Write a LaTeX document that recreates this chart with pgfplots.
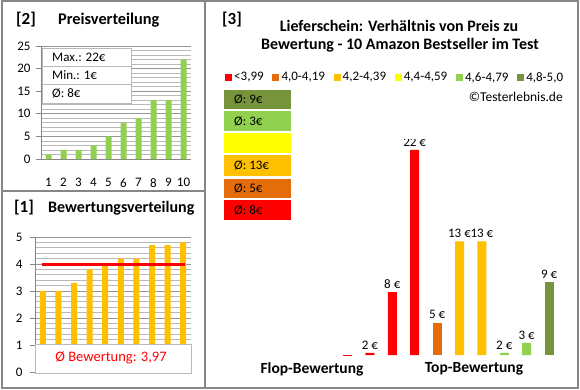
\documentclass[border=0pt]{standalone}
\usepackage{pgfplots}
\pgfplotsset{compat=1.18}
\usepackage{fontspec}
\setmainfont{Carlito}
\definecolor{frame}{RGB}{134,134,134}
\definecolor{gridmaj}{RGB}{150,150,150}
\definecolor{gridmin}{RGB}{185,185,185}
\definecolor{cred}{RGB}{255,0,0}
\definecolor{corange}{RGB}{228,108,10}
\definecolor{cgold}{RGB}{255,192,0}
\definecolor{cyellow}{RGB}{255,255,0}
\definecolor{clgreen}{RGB}{146,208,80}
\definecolor{cdgreen}{RGB}{119,147,60}
\newcommand{\fs}[1]{\fontsize{#1}{#1}\selectfont}
\begin{document}
\begin{tikzpicture}
\path[use as bounding box] (0pt,0pt) rectangle (580pt,-390pt);
\fill[white] (0pt,0pt) rectangle (580pt,-390pt);
% ---------- Panel 2 ----------
\node[anchor=west, inner sep=0pt, font=\bfseries\fs{17}] at (16pt,-20pt) {[2]};
\node[anchor=west, inner sep=0pt, font=\bfseries\fs{16.3}] at (58pt,-20pt) {Preisverteilung};
\begin{axis}[at={(41pt,-159pt)}, anchor=south west, scale only axis,
  width=150pt, height=113pt,
  xmin=0.5, xmax=10.5, ymin=0, ymax=25,
  xtick={1,...,10}, ytick={0,5,...,25}, minor ytick={0,1,...,25},
  ymajorgrids, yminorgrids,
  major grid style={gridmaj, line width=0.8pt},
  minor grid style={gridmin, line width=0.8pt},
  axis x line*=bottom, axis y line*=left,
  axis line style={frame, line width=0.8pt, -},
  tick align=outside, major tick length=5pt, minor tick length=0pt,
  xtick style={draw=none}, ytick style={frame, line width=0.8pt},
  /pgf/number format/assume math mode=true,
  ticklabel style={font=\fs{13}},
  xticklabel style={yshift=-11pt},
  yticklabel style={xshift=-2pt},
  clip=false]
\addplot[ybar, bar width=6pt, bar shift=0pt, fill=clgreen, draw=none]
  coordinates {(1,1)(2,2)(3,2)(4,3)(5,5)(6,8)(7,9)(8,13)(9,13)(10,22)};
\end{axis}
\draw[gridmin, fill=white, line width=0.8pt] (42pt,-48pt) rectangle (131pt,-103pt);
\draw[gridmin, line width=0.8pt] (42pt,-66pt) -- (131pt,-66pt);
\draw[gridmin, line width=0.8pt] (42pt,-84pt) -- (131pt,-84pt);
\node[anchor=west, inner sep=0pt, font=\fs{13}] at (52pt,-57pt) {Max.: 22€};
\node[anchor=west, inner sep=0pt, font=\fs{13}] at (52pt,-75pt) {Min.: 1€};
\node[anchor=west, inner sep=0pt, font=\fs{13}] at (52pt,-93pt) {Ø: 8€};
% ---------- Panel 1 ----------
\node[anchor=west, inner sep=0pt, font=\bfseries\fs{17}] at (14pt,-208pt) {[1]};
\node[anchor=west, inner sep=0pt, font=\bfseries\fs{16}] at (48pt,-208pt) {Bewertungsverteilung};
\begin{axis}[at={(35pt,-372pt)}, anchor=south west, scale only axis,
  width=156pt, height=135pt,
  xmin=0.5, xmax=10.5, ymin=0, ymax=5,
  xtick=\empty, ytick={0,1,...,5}, minor y tick num=4,
  ymajorgrids, yminorgrids,
  major grid style={gridmaj, line width=0.8pt},
  minor grid style={gridmin, line width=0.8pt},
  axis x line*=bottom, axis y line*=left,
  axis line style={frame, line width=0.8pt, -},
  tick align=outside, major tick length=5pt, minor tick length=0pt,
  ytick style={frame, line width=0.8pt},
  /pgf/number format/assume math mode=true,
  ticklabel style={font=\fs{13}},
  yticklabel style={xshift=-4pt},
  clip=false]
\addplot[ybar, bar width=6pt, bar shift=0pt, fill=cgold, draw=none]
  coordinates {(1,3.0)(2,3.0)(3,3.3)(4,3.8)(5,4.0)(6,4.2)(7,4.2)(8,4.7)(9,4.7)(10,4.8)};
\addplot[cred, line width=3pt, mark=none] coordinates {(0.95,3.97)(10.1,3.97)};
\end{axis}
\draw[gridmin, fill=white, line width=0.8pt] (35pt,-344pt) rectangle (191pt,-373pt);
\node[inner sep=0pt, text=cred, font=\fs{14.5}] at (111pt,-358pt) {Ø Bewertung: 3,97};
% ---------- Panel 3 ----------
\node[anchor=west, inner sep=0pt, font=\bfseries\fs{17}] at (222pt,-20pt) {[3]};
\node[inner sep=0pt, font=\bfseries\fs{16}] at (399pt,-26pt) {Lieferschein: Verhältnis von Preis zu};
\node[inner sep=0pt, font=\bfseries\fs{16}] at (400pt,-45pt) {Bewertung - 10 Amazon Bestseller im Test};
% legend row
\fill[cred]    (225pt,-74pt) rectangle (232pt,-81pt);
\node[anchor=west, inner sep=0pt, font=\fs{13}] at (234pt,-77.5pt) {<3,99};
\fill[corange] (272.3pt,-74pt) rectangle (279.3pt,-81pt);
\node[anchor=west, inner sep=0pt, font=\fs{13}] at (281.3pt,-77.5pt) {4,0-4,19};
\fill[cgold]   (333.5pt,-74pt) rectangle (340.5pt,-81pt);
\node[anchor=west, inner sep=0pt, font=\fs{13}] at (342.5pt,-77.5pt) {4,2-4,39};
\fill[cyellow] (394.7pt,-74pt) rectangle (401.7pt,-81pt);
\node[anchor=west, inner sep=0pt, font=\fs{13}] at (403.7pt,-77.5pt) {4,4-4,59};
\fill[clgreen] (455.9pt,-74pt) rectangle (462.9pt,-81pt);
\node[anchor=west, inner sep=0pt, font=\fs{13}] at (464.9pt,-77.5pt) {4,6-4,79};
\fill[cdgreen] (517.1pt,-74pt) rectangle (524.1pt,-81pt);
\node[anchor=west, inner sep=0pt, font=\fs{13}] at (526.1pt,-77.5pt) {4,8-5,0};
\node[anchor=east, inner sep=0pt, font=\fs{13.5}] at (563pt,-97pt) {©Testerlebnis.de};
% average boxes
\fill[cdgreen] (224pt,-90pt)  rectangle (291pt,-109pt);
\fill[clgreen] (224pt,-111pt) rectangle (291pt,-131pt);
\fill[cyellow] (224pt,-133pt) rectangle (291pt,-153pt);
\fill[cgold]   (224pt,-155pt) rectangle (291pt,-176pt);
\fill[corange] (224pt,-179pt) rectangle (291pt,-198pt);
\fill[cred]    (224pt,-200pt) rectangle (291pt,-220pt);
\node[anchor=west, inner sep=0pt, font=\fs{13}] at (234pt,-99.5pt) {Ø: 9€};
\node[anchor=west, inner sep=0pt, font=\fs{13}] at (234pt,-121pt) {Ø: 3€};
\node[anchor=west, inner sep=0pt, font=\fs{13}] at (234pt,-165.5pt) {Ø: 13€};
\node[anchor=west, inner sep=0pt, font=\fs{13}] at (234pt,-188.5pt) {Ø: 5€};
\node[anchor=west, inner sep=0pt, font=\fs{13}] at (234pt,-210pt) {Ø: 8€};
\begin{axis}[at={(336.3pt,-355pt)}, anchor=south west, scale only axis,
  width=224pt, height=215.2pt,
  xmin=0.5, xmax=10.5, ymin=1.8, ymax=23,
  hide axis, clip marker paths=true,
  /pgf/number format/assume math mode=true,
  nodes near coords={\pgfmathprintnumber{\pgfplotspointmeta}~€},
  every node near coord/.append style={font=\fs{13}, text=black}]
\addplot[ybar, bar width=9pt, bar shift=0pt, fill=cred, draw=none]
  coordinates {(1,1)(2,2)(3,8)(4,22)};
\addplot[ybar, bar width=9pt, bar shift=0pt, fill=corange, draw=none]
  coordinates {(5,5)};
\addplot[ybar, bar width=9pt, bar shift=0pt, fill=cgold, draw=none]
  coordinates {(6,13)(7,13)};
\addplot[ybar, bar width=9pt, bar shift=0pt, fill=clgreen, draw=none]
  coordinates {(8,2)(9,3)};
\addplot[ybar, bar width=9pt, bar shift=0pt, fill=cdgreen, draw=none]
  coordinates {(10,9)};
\end{axis}
\node[inner sep=0pt, font=\bfseries\fs{15.5}] at (312pt,-369pt) {Flop-Bewertung};
\node[inner sep=0pt, font=\bfseries\fs{15.5}] at (474pt,-369pt) {Top-Bewertung};
% ---------- frames ----------
\draw[frame, line width=1.5pt] (2pt,-1pt) rectangle (578pt,-388pt);
\draw[frame, line width=1.5pt] (205pt,-1pt) -- (205pt,-388pt);
\draw[frame, line width=1.5pt] (2pt,-191pt) -- (205pt,-191pt);
\end{tikzpicture}
\end{document}
